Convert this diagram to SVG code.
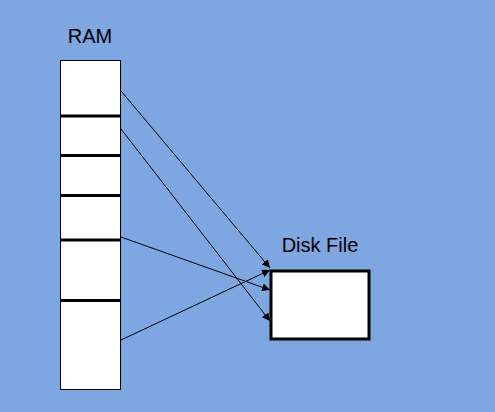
<svg xmlns="http://www.w3.org/2000/svg" width="495" height="412" viewBox="0 0 495 412">
<defs>
<style>
.lbl{font-family:"Liberation Sans",Arial,sans-serif;font-size:20px;fill:#000;text-anchor:middle}
.div{stroke:#000;stroke-width:3}
.conn{stroke:#000;stroke-width:1;fill:none;marker-end:url(#ah)}
</style>
<marker id="ah" viewBox="0 0 10 10" refX="10" refY="5" markerWidth="8" markerHeight="8" markerUnits="userSpaceOnUse" orient="auto">
<path d="M0,0 L10,5 L0,10 z" fill="#000"/>
</marker>
</defs>
<rect width="495" height="412" fill="#7ea6e0"/>
<g id="ram">
<text class="lbl" x="90" y="43">RAM</text>
<rect x="60.5" y="60.5" width="60" height="329" fill="#fff" stroke="#000" stroke-width="1"/>
<line class="div" x1="60" y1="116" x2="121" y2="116"/>
<line class="div" x1="60" y1="155.5" x2="121" y2="155.5"/>
<line class="div" x1="60" y1="195.5" x2="121" y2="195.5"/>
<line class="div" x1="60" y1="240" x2="121" y2="240"/>
<line class="div" x1="60" y1="300.5" x2="121" y2="300.5"/>
</g>
<g id="disk">
<text class="lbl" x="320" y="252">Disk File</text>
<rect x="271" y="271" width="98" height="68" fill="#fff" stroke="#000" stroke-width="3"/>
</g>
<g id="connectors">
<line class="conn" x1="121" y1="91" x2="270" y2="268"/>
<line class="conn" x1="121" y1="129" x2="270" y2="321"/>
<line class="conn" x1="121" y1="237" x2="270" y2="290"/>
<line class="conn" x1="121" y1="340" x2="270" y2="270"/>
</g>
</svg>
